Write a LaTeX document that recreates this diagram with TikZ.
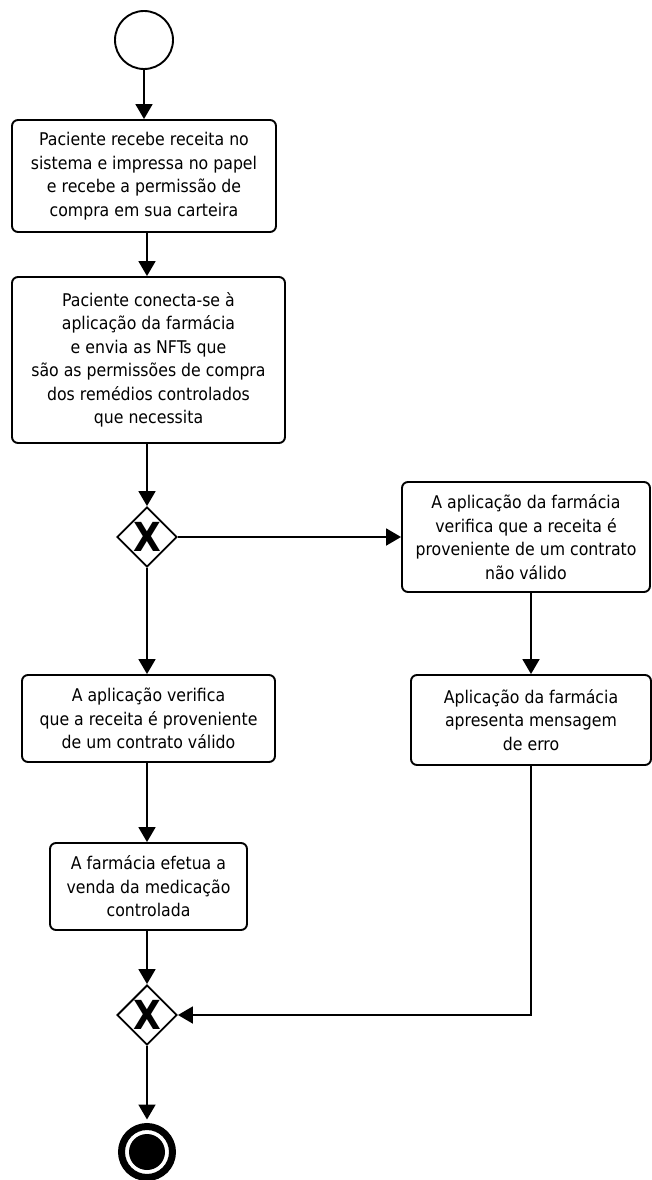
\documentclass[tikz,border=0pt]{standalone}
\usepackage{fontspec}
\setmainfont{DejaVu Sans Condensed}
\usetikzlibrary{shapes.geometric,arrows.meta}
\begin{document}
\begin{tikzpicture}[x=1pt,y=-1pt,
 box/.style={draw, rounded corners=6pt, line width=1.9pt, align=center, inner sep=0pt, font=\fontsize{17.5}{23.5}\selectfont},
 gate/.style={draw, diamond, line width=1.9pt, minimum width=60pt, minimum height=60pt, inner sep=0pt,
   label={[font=\fontsize{40}{40}\selectfont\bfseries]center:X}},
 flow/.style={line width=1.9pt, -{Triangle[length=15pt,width=17pt]}},
 conn/.style={line width=1.9pt}]
\useasboundingbox (0,0) rectangle (652,1180);
\node[circle, draw, line width=1.9pt, minimum size=58pt, inner sep=0pt] (start) at (144,40) {};
\node[box, minimum width=264pt, minimum height=112pt] (b1) at (144,176)
 {Paciente recebe receita no\\sistema e impressa no papel\\e recebe a permissão de\\compra em sua carteira};
\node[box, minimum width=273pt, minimum height=166pt] (b2) at (148.5,360)
 {Paciente conecta-se à\\aplicação da farmácia\\e envia as NFTs que\\são as permissões de compra\\dos remédios controlados\\que necessita};
\node[gate] (g1) at (147,537) {};
\node[box, minimum width=248pt, minimum height=110pt] (r1) at (526,537)
 {A aplicação da farmácia\\verifica que a receita é\\proveniente de um contrato\\não válido};
\node[box, minimum width=240pt, minimum height=90pt] (r2) at (531,720)
 {Aplicação da farmácia\\apresenta mensagem\\de erro};
\node[box, minimum width=253pt, minimum height=87pt] (l1) at (148.5,718.5)
 {A aplicação verifica\\que a receita é proveniente\\de um contrato válido};
\node[box, minimum width=197pt, minimum height=87pt] (l2) at (148.5,886.5)
 {A farmácia efetua a\\venda da medicação\\controlada};
\node[gate] (g2) at (147,1015) {};
\node[circle, draw, line width=7pt, minimum size=51pt, inner sep=0pt] (end) at (147,1152) {};
\node[circle, fill, minimum size=36pt, inner sep=0pt] (endc) at (end.center) {};
\draw[flow] (start) -- (start |- b1.north);
\draw[flow] (b1.south -| g1) -- (g1 |- b2.north);
\draw[flow] (b2.south -| g1) -- (g1.north);
\draw[flow] (g1.east) -- (r1.west);
\draw[flow] (r2.north |- r1.south) -- (r2.north);
\draw[flow] (g1.south) -- (g1 |- l1.north);
\draw[flow] (l1.south -| g1) -- (g1 |- l2.north);
\draw[flow] (l2.south -| g1) -- (g2.north);
\draw[flow] (r2.south) |- (g2.east);
\draw[flow, shorten >=3.5pt] (g2.south) -- (end.north);
\end{tikzpicture}
\end{document}
